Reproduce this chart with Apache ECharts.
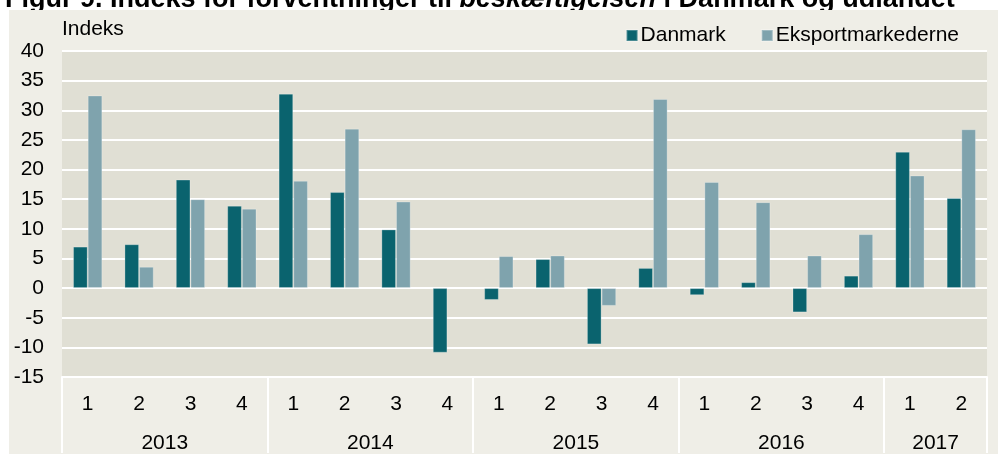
<!DOCTYPE html>
<html lang="da">
<head>
<meta charset="UTF-8">
<title>Figur 9</title>
<script src="https://cdn.jsdelivr.net/npm/echarts@6/dist/echarts.min.js"></script>
<style>
  html, body { margin: 0; padding: 0; background: #fff; }
  #box { width: 998px; height: 454px; }
</style>
</head>
<body>
<div id="box"></div>
<script>
    // data
    var years = ['2013', '2014', '2015', '2016', '2017'];
    var quartersPerYear = [4, 4, 4, 4, 2];
    var quarters = ['1','2','3','4', '1','2','3','4', '1','2','3','4', '1','2','3','4', '1','2'];
    var danmark = [7.0, 7.4, 18.3, 13.9, 32.8, 16.2, 9.9, -10.9, -2.0, 4.9, -9.5, 3.4, -1.2, 1.0, -4.1, 2.1, 23.0, 15.2];
    var eksport = [32.5, 3.6, 15.0, 13.4, 18.1, 26.9, 14.6, 0, 5.4, 5.5, -3.0, 31.9, 17.9, 14.5, 5.5, 9.1, 19.0, 26.8];
    var yTicks = { min: -15, max: 40, step: 5 };

    var font = "'Liberation Sans', Arial, sans-serif";
    var fs = 21;

    // year labels sit in the middle of each year's quarters
    var yearAt = {};
    var pos = 0;
    for (var i = 0; i < years.length; i++) {
        yearAt[pos + quartersPerYear[i] / 2] = years[i];
        pos += quartersPerYear[i];
    }
    // boundaries between years (index of first quarter)
    var yearStart = {};
    pos = 0;
    for (var i = 0; i < years.length; i++) {
        yearStart[pos] = true;
        pos += quartersPerYear[i];
    }

    var myChart = echarts.init(document.getElementById('box'));

    var option = {
        backgroundColor: '#ffffff',
        animation: false,
        textStyle: { fontFamily: font },
        title: {
            text: 'Figur 9. Indeks for forventninger til {i|beskæftigelsen} i Danmark og udlandet',
            left: 0,
            top: -19,
            textStyle: {
                fontFamily: font, fontSize: 27, fontWeight: 'bold', color: '#000',
                rich: { i: { fontFamily: font, fontSize: 27, fontWeight: 'bold', fontStyle: 'italic', color: '#000' } }
            },
            z: -20
        },
        graphic: [{
            type: 'rect',
            left: 9, top: 10,
            shape: { width: 989, height: 444 },
            style: { fill: '#efeee7' },
            z: -10, silent: true
        }],
        legend: {
            right: 34,
            top: 20,
            icon: 'rect',
            itemWidth: 11,
            itemHeight: 11,
            itemGap: 35,
            textStyle: { fontFamily: font, fontSize: fs, color: '#000', padding: [0, 0, 0, -2] },
            data: ['Danmark', 'Eksportmarkederne']
        },
        grid: {
            left: 62, right: 11, top: 51, bottom: 76,
            show: true,
            backgroundColor: '#e0dfd4',
            borderWidth: 0
        },
        xAxis: [{
            type: 'category',
            data: quarters,
            axisLine: { show: true, onZero: false, lineStyle: { color: '#ffffff', width: 2 } },
            axisTick: {
                show: true,
                length: 76,
                lineStyle: { color: '#ffffff', width: 2 },
                interval: function (idx) { return !!yearStart[idx]; }
            },
            axisLabel: { interval: 0, margin: 17, fontSize: fs, color: '#000', fontFamily: font },
            splitLine: { show: false }
        }, {
            type: 'value',
            position: 'bottom',
            min: 0, max: quarters.length, interval: 1,
            axisLine: { show: false, onZero: false },
            axisTick: { show: false },
            splitLine: { show: false },
            axisLabel: {
                margin: 56, fontSize: fs, color: '#000', fontFamily: font,
                showMinLabel: true, showMaxLabel: true,
                formatter: function (v) { return yearAt[v] || ''; }
            }
        }],
        yAxis: {
            type: 'value',
            min: yTicks.min, max: yTicks.max, interval: yTicks.step,
            name: 'Indeks',
            nameLocation: 'end',
            nameGap: 11,
            nameTextStyle: { align: 'left', fontSize: fs, color: '#000', fontFamily: font },
            axisLine: { show: false },
            axisTick: { show: false },
            axisLabel: { margin: 18, fontSize: fs, color: '#000', fontFamily: font },
            splitLine: { show: true, lineStyle: { color: '#ffffff', width: 2 } }
        },
        series: [{
            name: 'Danmark',
            type: 'bar',
            data: danmark,
            barGap: '0%',
            barCategoryGap: '43%',
            itemStyle: { color: '#0a636e', borderColor: 'rgba(255,255,255,0.25)', borderWidth: 1 }
        }, {
            name: 'Eksportmarkederne',
            type: 'bar',
            data: eksport,
            barGap: '0%',
            barCategoryGap: '43%',
            itemStyle: { color: '#7fa3ad', borderColor: 'rgba(255,255,255,0.25)', borderWidth: 1 }
        }]
    };
    myChart.setOption(option);
</script>
</body>
</html>
